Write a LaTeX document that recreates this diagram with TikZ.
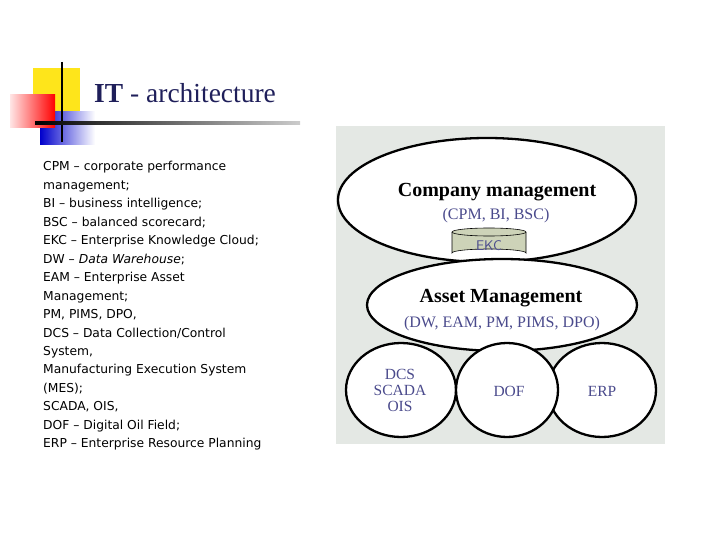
\documentclass[tikz,border=0pt]{standalone}
\usepackage{fontspec}
\setmainfont{Liberation Serif}
\newfontfamily\listfont{DejaVu Sans}
\usetikzlibrary{shapes.geometric}
\definecolor{navy}{HTML}{1F1F5A}
\definecolor{lblue}{HTML}{4A4A8C}
\definecolor{panel}{HTML}{E4E8E4}
\definecolor{ekc}{HTML}{CDD3B8}
\tikzset{
  ell/.style={draw=black, line width=2.3pt, fill=white, ellipse},
  lst/.style={anchor=base west, font=\listfont\fontsize{12.3}{14}\selectfont, inner sep=0pt},
}
\begin{document}
\begin{tikzpicture}[x=1pt,y=-1pt]
\useasboundingbox (0,0) rectangle (720,540);
% decoration
\fill[yellow!85!orange!90] (33,68) rectangle (80,112);
\shade[left color=blue!80!black, right color=white] (40,112) rectangle (95,145);
\shade[left color=red!10, right color=red] (10,95) rectangle (55,128);
\draw[line width=2pt] (62,62) -- (62,142);
\shade[left color=black, right color=gray!40] (35,121.5) rectangle (300,124.5);
\node[anchor=base west, text=navy, font=\fontsize{27.5}{31}\selectfont, inner sep=0pt] (title) at (94,103) {\textbf{IT} - architecture};
% list
\foreach \t [count=\i] in {CPM – corporate performance, management;, BI – business intelligence;, BSC – balanced scorecard;, EKC – Enterprise Knowledge Cloud;, DW – \textit{Data Warehouse};, EAM – Enterprise Asset, Management;, {PM, PIMS, DPO,}, DCS – Data Collection/Control, System{,}, Manufacturing Execution System, (MES);, {SCADA, OIS,}, DOF – Digital Oil Field;, ERP – Enterprise Resource Planning}
  \node[lst] (l\i) at (43,171+18.45*\i-18.45) {\t};
% panel
\fill[panel] (336,126) rectangle (665,444);
\node[ell, minimum width=298, minimum height=124] (cm) at (487,200) {};
\node[ell, minimum width=270, minimum height=92] (am) at (502,305) {};
\node[ell, minimum width=110, minimum height=94] (b1) at (401,390) {};
\node[ell, minimum width=108, minimum height=94] (b3) at (602,390) {};
\node[ell, minimum width=102, minimum height=94] (b2) at (507,390) {};
% EKC cylinder
\draw[fill=ekc, line width=0.6pt] (452,232) -- (452,253) arc[start angle=180,end angle=360,x radius=37,y radius=4] -- (526,232);
\draw[fill=ekc, line width=0.6pt] (489,232) ellipse[x radius=37, y radius=4];
\node[text=lblue, font=\sffamily\fontsize{14}{16}\selectfont] (ekc) at (489,246) {EKC};
\node[font=\bfseries\fontsize{20}{24}\selectfont] (cmt) at (497,192) {Company management};
\node[text=lblue, font=\fontsize{16}{18}\selectfont] (cms) at (496,216) {(CPM, BI, BSC)};
\node[font=\bfseries\fontsize{20}{24}\selectfont] (amt) at (501,298) {Asset Management};
\node[text=lblue, font=\fontsize{16}{18}\selectfont] (ams) at (502,324) {(DW, EAM, PM, PIMS, DPO)};
\node[text=lblue, font=\fontsize{15.5}{16}\selectfont, align=center] (b1t) at (400,390) {DCS\\SCADA\\OIS};
\node[text=lblue, font=\fontsize{15.5}{18}\selectfont] (b2t) at (509,391) {DOF};
\node[text=lblue, font=\fontsize{15.5}{18}\selectfont] (b3t) at (602,391) {ERP};
\end{tikzpicture}
\end{document}
